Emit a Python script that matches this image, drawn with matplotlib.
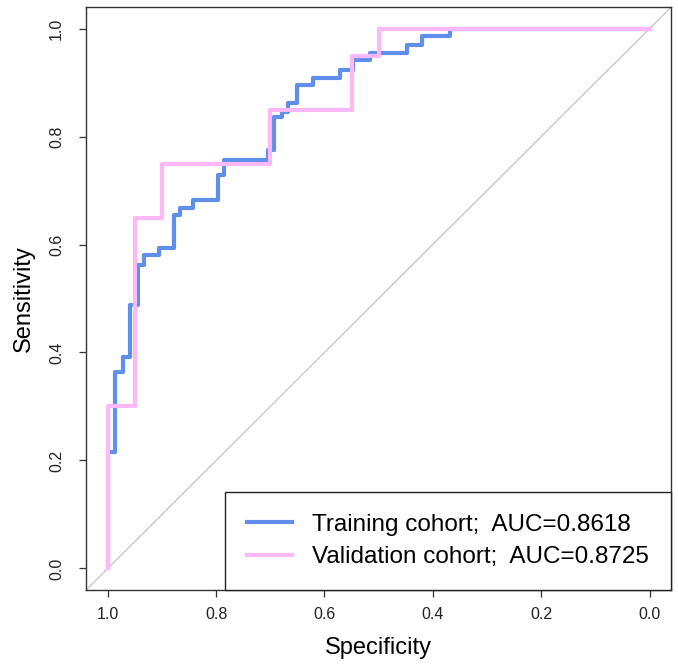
import matplotlib.pyplot as plt

plt.rcParams["font.family"] = ["Liberation Sans", "DejaVu Sans"]

# Curvas ROC: especificidad donde sube la curva y sensibilidad alcanzada
spec_train = [1.0, 0.987, 0.972, 0.959, 0.945, 0.934, 0.906, 0.878, 0.866,
              0.842, 0.797, 0.786, 0.705, 0.694, 0.678, 0.667, 0.650, 0.622,
              0.571, 0.547, 0.516, 0.448, 0.420, 0.368]
sens_train = [0.216, 0.364, 0.392, 0.488, 0.562, 0.581, 0.594, 0.655, 0.668,
              0.683, 0.729, 0.757, 0.775, 0.837, 0.846, 0.863, 0.896, 0.909,
              0.924, 0.942, 0.955, 0.970, 0.987, 1.0]

spec_valid = [1.0, 0.95, 0.90, 0.70, 0.55, 0.50]
sens_valid = [0.30, 0.65, 0.75, 0.85, 0.95, 1.0]

etiquetas = ["Training cohort;  AUC=0.8618", "Validation cohort;  AUC=0.8725"]
colores = ["#5f8fea", "#ffb8f7"]
ticks = [1.0, 0.8, 0.6, 0.4, 0.2, 0.0]

fig = plt.figure(figsize=(6.78, 6.64), dpi=100)
ax = fig.add_axes([0.127, 0.1114, 0.863, 0.8781])

# Línea de referencia
ax.axline((1, 0), (0, 1), color="#c4c4c4", linewidth=0.9, zorder=1)

# Curvas escalonadas
ax.step(spec_train + [0.0], [0.0] + sens_train, where="pre",
        color=colores[0], linewidth=3.0, label=etiquetas[0], zorder=2)
ax.step(spec_valid + [0.0], [0.0] + sens_valid, where="pre",
        color=colores[1], linewidth=3.0, label=etiquetas[1], zorder=3)

ax.set_xlim(1.04, -0.04)
ax.set_ylim(-0.04, 1.04)
ax.set_xticks(ticks)
ax.set_yticks(ticks)
ax.set_xticklabels([f"{t:.1f}" for t in ticks])
ax.set_yticklabels([f"{t:.1f}" for t in ticks], rotation=90, va="center")
ax.tick_params(length=5, width=0.9, labelsize=11.5, color="#333333",
               labelcolor="#222222")
ax.tick_params(axis="y", pad=11)
ax.tick_params(axis="x", pad=7)
for s in ax.spines.values():
    s.set_linewidth(1.0)
    s.set_color("#333333")

ax.set_xlabel("Specificity", fontsize=17, labelpad=11)
ax.set_ylabel("Sensitivity", fontsize=17, labelpad=10)

leg = ax.legend(loc="lower right", fontsize=17.5, frameon=True, fancybox=False,
                borderaxespad=0, handlelength=1.85, handletextpad=0.85,
                borderpad=0.9, labelspacing=0.42)
leg.get_frame().set_edgecolor("#222222")
leg.get_frame().set_linewidth(1.0)
leg.get_frame().set_alpha(1)

plt.savefig("out.png", dpi=100)
